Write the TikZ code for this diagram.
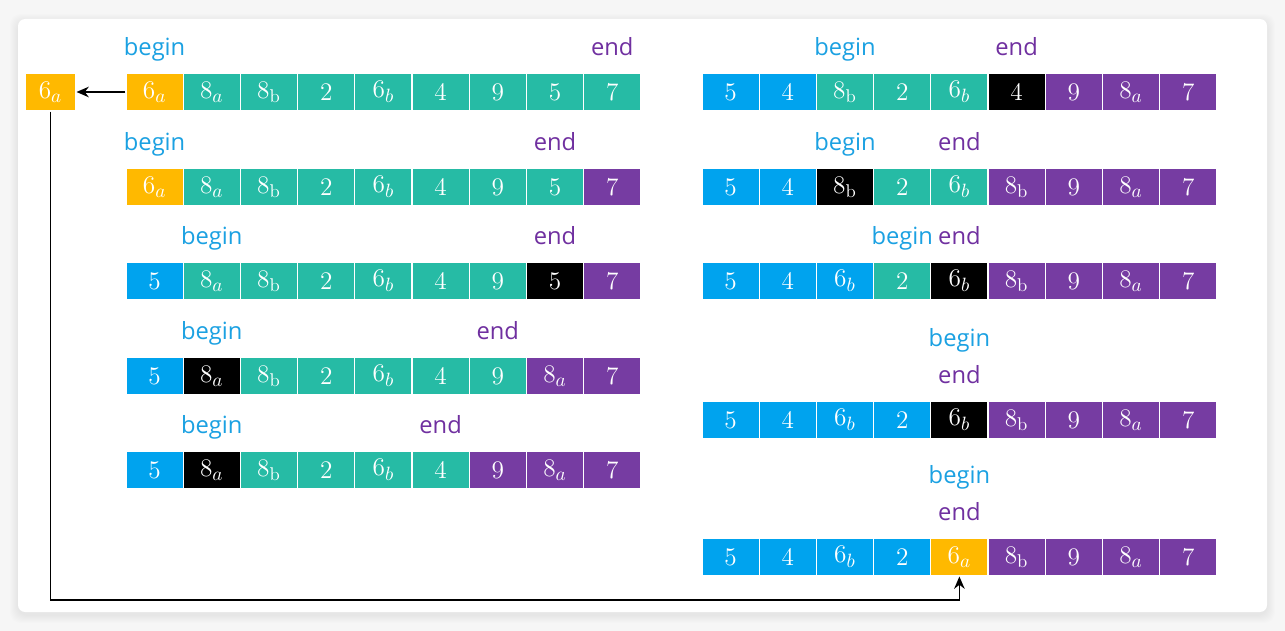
\documentclass[tikz,border=0pt]{standalone}
\usepackage{fontspec}
\setsansfont{Open Sans}
\usetikzlibrary{calc,arrows.meta}
\definecolor{cblue}{RGB}{0,163,238}
\definecolor{cteal}{RGB}{38,187,165}
\definecolor{cpurp}{RGB}{118,60,162}
\definecolor{corange}{RGB}{255,185,0}
\definecolor{cblack}{RGB}{0,0,0}
\definecolor{lblue}{RGB}{27,161,226}
\definecolor{lpurp}{RGB}{112,48,160}
\definecolor{bgc}{RGB}{246,246,246}
\tikzset{
  cell/.style={draw=white, line width=0.6pt, fill=#1, text=white, minimum width=1.144cm, minimum height=0.76cm, inner sep=0pt, font=\fontsize{15}{17}\selectfont},
  beglbl/.style={anchor=base, text=lblue, font=\sffamily\fontsize{13.5}{16}\selectfont, inner sep=0pt},
  endlbl/.style={anchor=base, text=lpurp, font=\sffamily\fontsize{13.5}{16}\selectfont, inner sep=0pt},
  conn/.style={draw=black, line width=0.9pt, -{Stealth[length=7pt,width=6pt]}}
}
\newcommand{\arrrow}[4]{%
  \foreach \cc/\tt [count=\i from 0] in {#4} {
    \node[cell=\cc] (#1c\i) at ({#2+57.2*(\i+0.5)},#3) {\tt};
  }
}
\begin{document}
\begin{tikzpicture}[x=0.02cm,y=-0.02cm]
\useasboundingbox (0,0) rectangle (1285,631);
\fill[bgc] (0,0) rectangle (1285,631);
\foreach \k in {1,...,8}{
  \fill[black,opacity=0.008,rounded corners=6pt] (18-\k,19-\k+3) rectangle (1267+\k,612+\k+3);
}
\fill[white,rounded corners=4pt] (18,19) rectangle (1267,612);

% left column
\arrrow{L1}{126}{92}{corange/{$6_a$},cteal/{$8_a$},cteal/{$8_\mathrm{b}$},cteal/{$2$},cteal/{$6_b$},cteal/{$4$},cteal/{$9$},cteal/{$5$},cteal/{$7$}}
\arrrow{L2}{126}{187}{corange/{$6_a$},cteal/{$8_a$},cteal/{$8_\mathrm{b}$},cteal/{$2$},cteal/{$6_b$},cteal/{$4$},cteal/{$9$},cteal/{$5$},cpurp/{$7$}}
\arrrow{L3}{126}{281}{cblue/{$5$},cteal/{$8_a$},cteal/{$8_\mathrm{b}$},cteal/{$2$},cteal/{$6_b$},cteal/{$4$},cteal/{$9$},cblack/{$5$},cpurp/{$7$}}
\arrrow{L4}{126}{376}{cblue/{$5$},cblack/{$8_a$},cteal/{$8_\mathrm{b}$},cteal/{$2$},cteal/{$6_b$},cteal/{$4$},cteal/{$9$},cpurp/{$8_a$},cpurp/{$7$}}
\arrrow{L5}{126}{470}{cblue/{$5$},cblack/{$8_a$},cteal/{$8_\mathrm{b}$},cteal/{$2$},cteal/{$6_b$},cteal/{$4$},cpurp/{$9$},cpurp/{$8_a$},cpurp/{$7$}}

% right column
\arrrow{R1}{702}{92}{cblue/{$5$},cblue/{$4$},cteal/{$8_\mathrm{b}$},cteal/{$2$},cteal/{$6_b$},cblack/{$4$},cpurp/{$9$},cpurp/{$8_a$},cpurp/{$7$}}
\arrrow{R2}{702}{187}{cblue/{$5$},cblue/{$4$},cblack/{$8_\mathrm{b}$},cteal/{$2$},cteal/{$6_b$},cpurp/{$8_\mathrm{b}$},cpurp/{$9$},cpurp/{$8_a$},cpurp/{$7$}}
\arrrow{R3}{702}{281}{cblue/{$5$},cblue/{$4$},cblue/{$6_b$},cteal/{$2$},cblack/{$6_b$},cpurp/{$8_\mathrm{b}$},cpurp/{$9$},cpurp/{$8_a$},cpurp/{$7$}}
\arrrow{R4}{702}{420}{cblue/{$5$},cblue/{$4$},cblue/{$6_b$},cblue/{$2$},cblack/{$6_b$},cpurp/{$8_\mathrm{b}$},cpurp/{$9$},cpurp/{$8_a$},cpurp/{$7$}}
\arrrow{R5}{702}{557}{cblue/{$5$},cblue/{$4$},cblue/{$6_b$},cblue/{$2$},corange/{$6_a$},cpurp/{$8_\mathrm{b}$},cpurp/{$9$},cpurp/{$8_a$},cpurp/{$7$}}

% labels
\node[beglbl] (L1b) at ($(L1c0.north)+(0,-17)$) {begin};
\node[endlbl] (L1e) at ($(L1c8.north)+(0,-17)$) {end};
\node[beglbl] (L2b) at ($(L2c0.north)+(0,-17)$) {begin};
\node[endlbl] (L2e) at ($(L2c7.north)+(0,-17)$) {end};
\node[beglbl] (L3b) at ($(L3c1.north)+(0,-17)$) {begin};
\node[endlbl] (L3e) at ($(L3c7.north)+(0,-17)$) {end};
\node[beglbl] (L4b) at ($(L4c1.north)+(0,-17)$) {begin};
\node[endlbl] (L4e) at ($(L4c6.north)+(0,-17)$) {end};
\node[beglbl] (L5b) at ($(L5c1.north)+(0,-17)$) {begin};
\node[endlbl] (L5e) at ($(L5c5.north)+(0,-17)$) {end};

\node[beglbl] (R1b) at ($(R1c2.north)+(0,-17)$) {begin};
\node[endlbl] (R1e) at ($(R1c5.north)+(0,-17)$) {end};
\node[beglbl] (R2b) at ($(R2c2.north)+(0,-17)$) {begin};
\node[endlbl] (R2e) at ($(R2c4.north)+(0,-17)$) {end};
\node[beglbl] (R3b) at ($(R3c3.north)+(0,-17)$) {begin};
\node[endlbl] (R3e) at ($(R3c4.north)+(0,-17)$) {end};
\node[beglbl] (R4b) at ($(R4c4.north)+(0,-54)$) {begin};
\node[endlbl] (R4e) at ($(R4c4.north)+(0,-17)$) {end};
\node[beglbl] (R5b) at ($(R5c4.north)+(0,-54)$) {begin};
\node[endlbl] (R5e) at ($(R5c4.north)+(0,-17)$) {end};

% extracted pivot
\node[cell=corange, minimum width=1.02cm] (ext) at (50.5,92) {$6_a$};
\coordinate (turn) at (0,600);
\draw[conn] (L1c0.west) -- (ext.east);
\draw[conn] (ext.south) -- (ext.south |- turn) -| (R5c4.south);
\end{tikzpicture}
\end{document}
